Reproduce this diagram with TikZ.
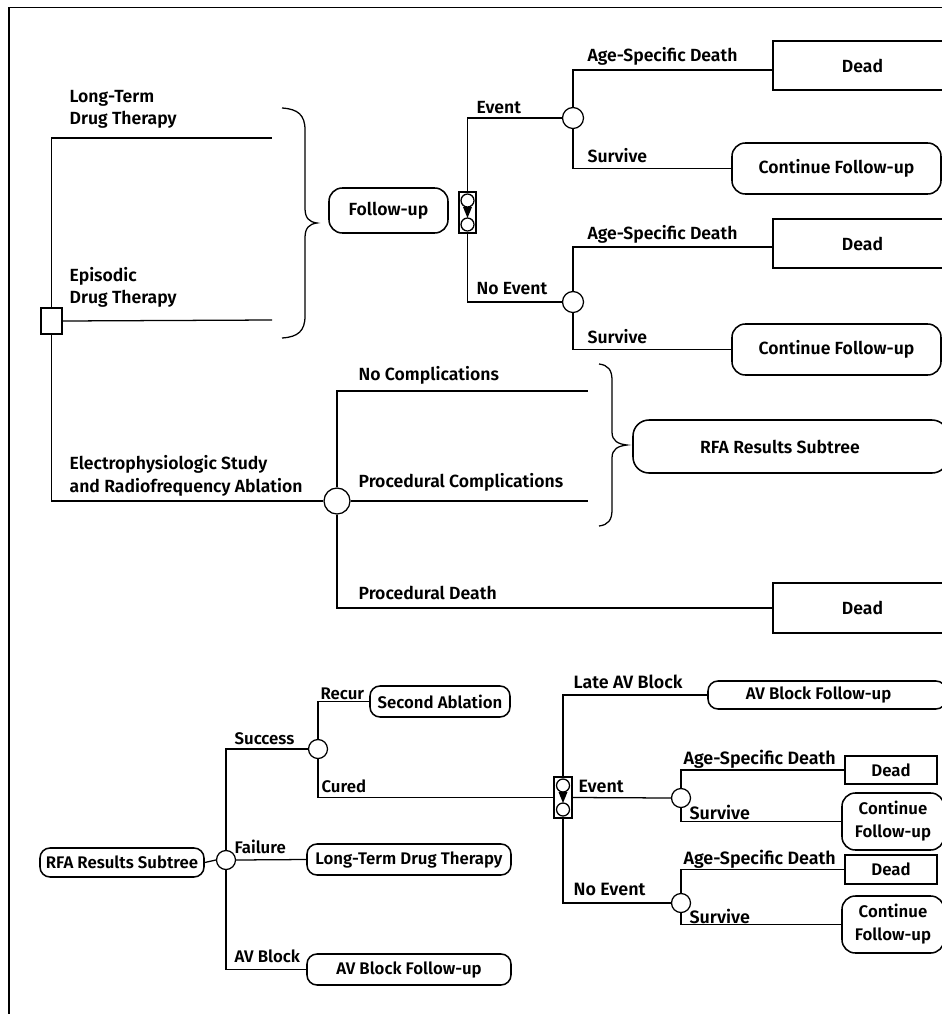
\documentclass[tikz,border=0pt]{standalone}
\usepackage{fontspec}
\setmainfont{Fira Sans}[UprightFont={* SemiBold}]
\newcommand\mkvsym[1]{%
  \draw (#1.center) ++(0,-12) circle[radius=6.5];
  \draw (#1.center) ++(0,12) circle[radius=6.5];
  \fill (#1.center) ++(-4.5,-5.5) -- ++(9,0) -- ++(-4.5,11) -- cycle;
  \draw (#1.north) -- ++(0,1.5);
  \draw (#1.south) -- ++(0,-1.5);
}
% box from pixel corners: style, name, x1, y1, x2, y2, text
\newcommand\tbox[7]{%
  \node[#1, minimum width={(#5-#3)*0.75pt}, minimum height={(#6-#4)*0.75pt}]
    (#2) at ({(#3+#5)/2},{(#4+#6)/2}) {#7};}
\begin{document}
\begin{tikzpicture}[x=0.75pt,y=-0.75pt, line width=0.95pt,
  big/.style={font=\fontsize{13.2}{16.5}\selectfont},
  small/.style={font=\fontsize{12.6}{17.3}\selectfont},
  lbl/.style={big, anchor=base west, inner sep=0},
  slbl/.style={small, anchor=base west, inner sep=0},
  rlbl/.style={font=\fontsize{13.4}{16.5}\selectfont, anchor=base west, inner sep=0},
  chance/.style={circle, draw, fill=white, minimum size=21*0.75pt, inner sep=0},
  schance/.style={circle, draw, fill=white, minimum size=19*0.75pt, inner sep=0},
  decision/.style={draw, fill=white, minimum width=21*0.75pt, minimum height=26*0.75pt, inner sep=0},
  markov/.style={draw, fill=white, inner sep=0},
  term/.style={draw, line width=1.15pt, inner sep=0, align=center, big},
  rterm/.style={term, rounded corners=10pt},
  sterm/.style={draw, line width=1.15pt, inner sep=0, align=center, small},
  srterm/.style={sterm, rounded corners=7.5pt}
]
\useasboundingbox (0,0) rectangle (942,1014);
% frame
\draw (945,7.5) -| (9,1020);

% ---------------- top tree ----------------
\node[decision] (sq) at (51.5,321) {};
\coordinate (ltend) at (272,138);
\coordinate (epend) at (272,320);
\node[chance, minimum size=26*0.75pt] (rfc) at (337,501) {};
\draw (sq.north) |- (ltend);
\draw (sq.east) -- (epend);
\draw (sq.south) |- (rfc.west);

\node[lbl] (l1) at (69,102) {Long-Term};
\node[lbl] (l2) at (69,124) {Drug Therapy};
\node[lbl] (l3) at (69,281) {Episodic};
\node[lbl] (l4) at (69,303) {Drug Therapy};
\node[lbl] (l5) at (69,469) {Electrophysiologic Study};
\node[lbl] (l6) at (69,492) {and Radiofrequency Ablation};

% brace 1
\draw (282,108) .. controls (298,109) and (305,115) .. (305,130) -- (305,208)
  .. controls (305,218) and (309,222) .. (317,223)
  .. controls (309,224) and (305,228) .. (305,238) -- (305,316)
  .. controls (305,331) and (298,337) .. (282,338);

\tbox{rterm}{fu}{329}{188}{448}{233}{Follow-up}

\node[markov, minimum width=17*0.75pt, minimum height=41*0.75pt] (m1) at (467.5,212.5) {};
\mkvsym{m1}

\node[chance] (e1) at (573,118) {};
\node[chance] (e2) at (573,302) {};
\draw (m1.north) |- (e1.west);
\draw (m1.south) |- (e2.west);
\node[lbl] (t1) at (476,113) {Event};
\node[lbl] (t2) at (476,294) {No Event};

\tbox{term}{d1}{773}{41}{952}{90}{\raisebox{-3pt}{Dead}}
\tbox{rterm}{cf1}{732}{143}{941}{194}{Continue Follow-up}
\tbox{term}{d2}{773}{219}{952}{268}{\raisebox{-3pt}{Dead}}
\tbox{rterm}{cf2}{732}{324}{941}{375}{Continue Follow-up}
\draw (e1.north) |- (d1.west |- 0,70);
\draw (e1.south) |- (cf1.west);
\draw (e2.north) |- (d2.west |- 0,247);
\draw (e2.south) |- (cf2.west);
\node[lbl] (t3) at (587,61) {Age-Specific Death};
\node[lbl] (t4) at (587,162) {Survive};
\node[lbl] (t5) at (587,239) {Age-Specific Death};
\node[lbl] (t6) at (587,343) {Survive};

% ---------------- RFA branch ----------------
\coordinate (ncend) at (588,391);
\coordinate (pcend) at (588,501);
\tbox{term}{d3}{773}{583}{952}{633}{\raisebox{-1.5pt}{Dead}}
\draw (rfc.north) |- (ncend);
\draw (rfc.east) -- (pcend);
\draw (rfc.south) |- (d3.west);
\node[lbl] (t7) at (358,380) {No Complications};
\node[lbl] (t8) at (358,487) {Procedural Complications};
\node[lbl] (t9) at (358,599) {Procedural Death};

% brace 2
\draw (599,364) .. controls (608,365) and (612,370) .. (612,380) -- (612,432)
  .. controls (612,441) and (618,444) .. (627,445)
  .. controls (618,446) and (612,449) .. (612,458) -- (612,510)
  .. controls (612,520) and (608,525) .. (599,526);
\tbox{rterm, rounded corners=12pt}{rfa1}{633}{420}{948}{473}{\hspace*{-1.2em}RFA Results Subtree}

% ---------------- RFA subtree ----------------
\tbox{srterm}{rfa2}{40}{848}{204}{877}{RFA Results Subtree}
\node[schance] (c0) at (226,860) {};
\node[schance] (cs) at (318,749) {};
\draw (rfa2.east) -- (c0.west);
\tbox{srterm}{sa}{370}{686}{510}{717}{Second Ablation}
\tbox{srterm}{ltdt}{307}{844}{511}{875}{Long-Term Drug Therapy}
\tbox{srterm}{avb}{307}{954}{511}{985}{AV Block Follow-up}
\draw (c0.north) |- (cs.west);
\draw (c0.east) -- (ltdt.west);
\draw (c0.south) |- (avb.west);
\draw (cs.north) |- (sa.west);
\node[slbl] (s1) at (234,744) {Success};
\node[slbl] (s2) at (320,699) {Recur};
\node[slbl] (s3) at (321,792) {Cured};
\node[slbl] (s4) at (234,853) {Failure};
\node[slbl] (s5) at (234,962) {AV Block};

\node[markov, minimum width=18*0.75pt, minimum height=41*0.75pt] (m2) at (563,797.5) {};
\mkvsym{m2}
\draw (cs.south) |- (m2.west);
\tbox{srterm}{lavb}{708}{681}{946}{709}{\hspace*{-1em}AV Block Follow-up}
\node[schance] (ce1) at (681,798) {};
\node[schance] (ce2) at (681,903) {};
\draw (m2.north) |- (lavb.west);
\draw (m2.east) -- (ce1.west);
\draw (m2.south) |- (ce2.west);
\node[rlbl] (s6) at (573,688) {Late AV Block};
\node[rlbl] (s7) at (578,792) {Event};
\node[rlbl] (s8) at (573,895) {No Event};

\tbox{sterm}{dd1}{845}{756}{937}{784}{Dead}
\tbox{srterm, rounded corners=10pt}{scf1}{842}{793}{944}{850}{Continue\\Follow-up}
\tbox{sterm}{dd2}{845}{855}{937}{884}{Dead}
\tbox{srterm, rounded corners=10pt}{scf2}{842}{896}{944}{953}{Continue\\Follow-up}
\draw (ce1.north) |- (dd1.west);
\draw (ce1.south) |- (scf1.west);
\draw (ce2.north) |- (dd2.west);
\draw (ce2.south) |- (scf2.west);
\node[rlbl] (s9) at (683,764) {Age-Specific Death};
\node[rlbl] (s10) at (689,819) {Survive};
\node[rlbl] (s11) at (683,864) {Age-Specific Death};
\node[rlbl] (s12) at (689,923) {Survive};
\end{tikzpicture}
\end{document}
